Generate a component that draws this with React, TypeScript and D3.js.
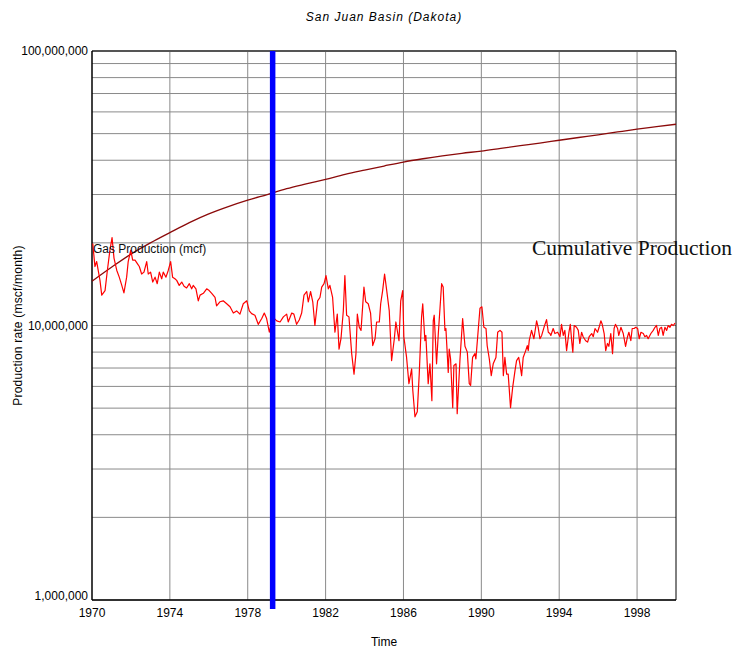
import * as d3 from "d3";

const title = "San Juan Basin (Dakota)";
const xTicks = [1970, 1974, 1978, 1982, 1986, 1990, 1994, 1998];
const yLabelTicks = [1e6, 1e7, 1e8];
const markerYear = 1979.28;

// cumulative production, millions (plotted on the same log axis)
const cumYears = [1970, 1971, 1972, 1973, 1974, 1975, 1976, 1977, 1978, 1979, 1980, 1981, 1982, 1983, 1984, 1985,
  1986, 1987, 1988, 1989, 1990, 1991, 1992, 1993, 1994, 1995, 1996, 1997, 1998, 1999, 2000];
const cumValues = [14.5, 16.3, 18.2, 20.0, 21.8, 23.7, 25.5, 27.1, 28.6, 30.0, 31.5, 32.8, 34.1, 35.5, 36.8, 38.1,
  39.4, 40.5, 41.5, 42.4, 43.2, 44.2, 45.2, 46.2, 47.3, 48.4, 49.5, 50.7, 51.9, 53.0, 54.1];

// gas production rate, millions of mscf/month
const gasYears = [1970.04, 1970.15, 1970.24, 1970.41, 1970.5, 1970.67, 1970.79, 1970.92, 1971.03, 1971.13,
  1971.27, 1971.4, 1971.53, 1971.64, 1971.78, 1971.86, 1971.99, 1972.09, 1972.21, 1972.33,
  1972.43, 1972.55, 1972.67, 1972.81, 1972.89, 1973.01, 1973.12, 1973.24, 1973.35, 1973.46,
  1973.58, 1973.66, 1973.8, 1973.92, 1974.04, 1974.14, 1974.26, 1974.35, 1974.48, 1974.61,
  1974.73, 1974.86, 1975.0, 1975.12, 1975.2, 1975.34, 1975.46, 1975.55, 1975.72, 1975.89,
  1976.02, 1976.15, 1976.32, 1976.4, 1976.57, 1976.74, 1976.92, 1977.09, 1977.26, 1977.43,
  1977.6, 1977.77, 1977.95, 1978.08, 1978.2, 1978.37, 1978.54, 1978.72, 1978.85, 1978.97,
  1979.11, 1979.28, 1979.49, 1979.66, 1979.83, 1980.0, 1980.08, 1980.26, 1980.37, 1980.51,
  1980.65, 1980.77, 1980.89, 1981.03, 1981.11, 1981.23, 1981.34, 1981.45, 1981.59, 1981.71,
  1981.8, 1981.92, 1982.02, 1982.14, 1982.22, 1982.36, 1982.48, 1982.6, 1982.69, 1982.79,
  1982.91, 1982.99, 1983.08, 1983.2, 1983.34, 1983.46, 1983.56, 1983.63, 1983.73, 1983.82,
  1983.97, 1984.06, 1984.19, 1984.31, 1984.42, 1984.54, 1984.62, 1984.76, 1984.83, 1984.93,
  1985.03, 1985.14, 1985.27, 1985.39, 1985.53, 1985.61, 1985.77, 1985.86, 1985.96, 1986.02,
  1986.16, 1986.28, 1986.42, 1986.48, 1986.59, 1986.71, 1986.81, 1986.93, 1986.99, 1987.1,
  1987.15, 1987.27, 1987.36, 1987.46, 1987.53, 1987.58, 1987.7, 1987.79, 1987.96, 1988.04,
  1988.13, 1988.18, 1988.3, 1988.35, 1988.42, 1988.53, 1988.59, 1988.7, 1988.76, 1988.9,
  1989.04, 1989.16, 1989.28, 1989.38, 1989.45, 1989.55, 1989.67, 1989.72, 1989.93, 1990.03,
  1990.13, 1990.24, 1990.3, 1990.41, 1990.51, 1990.61, 1990.75, 1990.84, 1990.96, 1991.06,
  1991.13, 1991.21, 1991.3, 1991.38, 1991.5, 1991.61, 1991.73, 1991.81, 1991.92, 1991.98,
  1992.07, 1992.15, 1992.28, 1992.36, 1992.41, 1992.46, 1992.58, 1992.7, 1992.84, 1992.92,
  1993.01, 1993.1, 1993.22, 1993.35, 1993.44, 1993.52, 1993.57, 1993.69, 1993.78, 1993.92,
  1994.04, 1994.12, 1994.21, 1994.29, 1994.38, 1994.5, 1994.57, 1994.64, 1994.7, 1994.77,
  1994.89, 1994.98, 1995.06, 1995.15, 1995.23, 1995.36, 1995.46, 1995.54, 1995.67, 1995.75,
  1995.84, 1995.97, 1996.05, 1996.14, 1996.21, 1996.31, 1996.39, 1996.48, 1996.55, 1996.65,
  1996.74, 1996.82, 1996.89, 1997.0, 1997.06, 1997.17, 1997.29, 1997.41, 1997.51, 1997.58,
  1997.68, 1997.75, 1997.85, 1997.93, 1998.03, 1998.11, 1998.2, 1998.32, 1998.4, 1998.49,
  1998.57, 1998.71, 1998.83, 1998.92, 1999.0, 1999.09, 1999.17, 1999.26, 1999.34, 1999.43,
  1999.52, 1999.6, 1999.69, 1999.77, 1999.86, 1999.95];
const gasRate = [19.9, 16.4, 17.1, 14.6, 12.9, 13.4, 15.9, 18.8, 20.9, 17.6,
  15.9, 15.0, 14.0, 13.15, 15.0, 17.1, 18.8, 17.3, 17.3, 16.8,
  16.4, 15.4, 15.65, 17.1, 15.4, 15.65, 14.4, 15.0, 14.2, 15.65,
  14.8, 15.65, 15.0, 15.9, 17.1, 15.0, 14.8, 14.6, 14.0, 14.4,
  13.9, 13.7, 14.2, 13.6, 14.0, 13.6, 12.3, 12.9, 13.1, 13.6,
  13.4, 13.1, 12.65, 11.8, 12.2, 12.3, 12.0, 11.7, 11.1, 11.3,
  11.0, 12.0, 12.3, 11.3, 11.05, 10.9, 10.1, 10.6, 11.1, 10.6,
  9.45, 10.75, 10.4, 10.3, 10.75, 11.0, 10.3, 11.1, 11.0, 10.1,
  10.5, 11.1, 12.9, 13.3, 12.2, 13.3, 12.2, 10.0, 12.3, 12.65,
  13.8, 14.2, 15.2, 13.6, 14.0, 12.65, 9.45, 11.0, 8.2, 8.95,
  11.3, 15.2, 10.9, 10.75, 7.9, 6.65, 7.9, 11.0, 9.85, 9.6,
  13.8, 12.2, 12.0, 11.1, 8.45, 8.95, 10.3, 10.3, 12.0, 13.4,
  15.4, 13.4, 11.3, 7.45, 8.95, 10.3, 8.8, 12.3, 13.4, 9.1,
  7.65, 6.14, 6.95, 5.8, 4.65, 4.85, 6.65, 10.75, 12.0, 8.8,
  9.2, 6.14, 7.25, 5.32, 10.4, 10.9, 7.25, 9.35, 14.2, 13.8,
  9.6, 9.75, 6.75, 8.2, 7.55, 5.02, 7.15, 7.25, 4.77, 7.45,
  10.6, 8.4, 8.0, 6.14, 6.05, 7.65, 7.9, 7.55, 11.55, 11.7,
  9.85, 9.75, 8.45, 7.55, 6.57, 7.25, 7.65, 9.45, 9.6, 9.45,
  6.57, 7.65, 6.65, 6.65, 5.02, 5.95, 6.85, 7.45, 7.65, 7.25,
  6.57, 7.65, 8.1, 8.45, 8.1, 8.8, 9.6, 8.95, 10.4, 9.85,
  8.95, 9.2, 9.85, 10.5, 9.45, 9.35, 9.2, 9.75, 9.35, 9.45,
  9.1, 10.1, 9.2, 9.6, 8.1, 9.45, 10.1, 8.8, 8.0, 10.0,
  9.85, 9.6, 8.6, 9.45, 9.1, 8.8, 8.7, 9.1, 9.35, 9.1,
  9.75, 9.45, 9.85, 10.4, 10.1, 9.35, 8.1, 8.6, 8.4, 9.35,
  7.9, 9.75, 10.1, 9.75, 9.2, 9.85, 9.35, 8.4, 9.1, 9.45,
  8.8, 9.75, 9.75, 9.85, 9.75, 8.95, 9.45, 9.35, 9.1, 9.2,
  8.95, 9.35, 9.6, 9.85, 10.0, 9.2, 9.75, 9.85, 9.2, 9.85,
  9.6, 10.0, 9.85, 10.1, 10.0, 10.2];

const W = 733;
const H = 650;
const left = 92;
const right = 676;
const top = 51;
const bottom = 600;
const sans = "'Liberation Sans', Arial, sans-serif";

const App = () => {
  const x = d3.scaleLinear().domain([1970, 2000]).range([left, right]);
  const y = d3.scaleLog().domain([1e6, 1e8]).range([bottom, top]);
  const fmt = d3.format(",");

  const gas = gasYears.map((t, i) => [t, gasRate[i] * 1e6] as [number, number]);
  const cum = cumYears.map((t, i) => [t, cumValues[i] * 1e6] as [number, number]);

  const gasLine = d3.line<[number, number]>().x((d) => x(d[0])).y((d) => y(d[1]));
  const cumLine = d3
    .line<[number, number]>()
    .x((d) => x(d[0]))
    .y((d) => y(d[1]))
    .curve(d3.curveMonotoneX);

  const grid = y.ticks();

  return (
    <svg width={W} height={H} style={{ position: "absolute", left: 0, top: 0 }}>
      <rect width={W} height={H} fill="#fff" />
      <text x={(left + right) / 2} y={21} textAnchor="middle" fontFamily={sans} fontSize={12}
        fontStyle="italic" letterSpacing={1}>
        {title}
      </text>

      {/* grid */}
      {grid.map((v) => (
        <line key={"h" + v} x1={left} x2={right} y1={y(v)} y2={y(v)} stroke="#8a8a8a" strokeWidth={1} />
      ))}
      {xTicks.slice(1).map((t) => (
        <line key={"v" + t} x1={x(t)} x2={x(t)} y1={top} y2={bottom} stroke="#8a8a8a" strokeWidth={1} />
      ))}

      {/* frame */}
      <line x1={left} x2={right} y1={top} y2={top} stroke="#555" strokeWidth={2} />
      <line x1={right} x2={right} y1={top} y2={bottom} stroke="#000" strokeWidth={1} />
      <line x1={left} x2={left} y1={top} y2={bottom} stroke="#000" strokeWidth={1.5} />
      <line x1={left} x2={right} y1={bottom} y2={bottom} stroke="#000" strokeWidth={1.5} />

      {/* series */}
      <path d={cumLine(cum) ?? ""} fill="none" stroke="#8b0a0a" strokeWidth={1.3} />
      <path d={gasLine(gas) ?? ""} fill="none" stroke="#ff0000" strokeWidth={1.2} strokeLinejoin="round" />

      {/* marker */}
      <line x1={x(markerYear)} x2={x(markerYear)} y1={top} y2={bottom + 9} stroke="#0000ff" strokeWidth={5.5} />

      {/* y labels */}
      {yLabelTicks.map((v, i) => (
        <text key={"yl" + v} x={88} y={y(v) + (i === 0 ? -3 : 1)} textAnchor="end" dominantBaseline="middle"
          fontFamily={sans} fontSize={12}>
          {fmt(v)}
        </text>
      ))}
      {xTicks.map((t) => (
        <text key={"xl" + t} x={x(t)} y={617} textAnchor="middle" fontFamily={sans} fontSize={12}>
          {t}
        </text>
      ))}

      <text x={(left + right) / 2} y={646} textAnchor="middle" fontFamily={sans} fontSize={12}>
        Time
      </text>
      <text transform={`translate(22, ${(top + bottom) / 2}) rotate(-90)`} textAnchor="middle"
        fontFamily={sans} fontSize={12} letterSpacing={0.2}>
        Production rate (mscf/month)
      </text>

      <text x={93} y={253} fontFamily={sans} fontSize={12} fill="#111">
        Gas Production (mcf)
      </text>
      <text x={532} y={255} fontFamily="'Liberation Serif', 'Times New Roman', serif" fontSize={21.5} fill="#111">
        Cumulative Production
      </text>
    </svg>
  );
};

export default App;
